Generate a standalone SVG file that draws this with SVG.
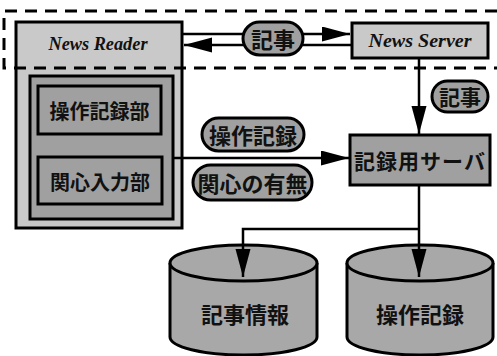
<svg xmlns="http://www.w3.org/2000/svg" width="497" height="356" viewBox="0 0 497 356">
<style>
.box{stroke:#000;stroke-width:3}
.light{fill:#c9c9c9}
.mid{fill:#a0a0a0}
.cyl{fill:#a8a8a8}
.bub{fill:#a0a0a0;stroke:#000;stroke-width:3}
.ja{font-family:"Noto Sans CJK JP","Noto Sans CJK SC",sans-serif;font-weight:700;fill:#111;text-anchor:middle;dominant-baseline:central}
.en{font-family:"Liberation Serif",serif;font-weight:700;font-style:italic;font-size:18px;fill:#111;text-anchor:middle;dominant-baseline:central}
.ln{fill:none;stroke:#000;stroke-width:2.5}
.dash{fill:none;stroke:#000;stroke-width:3;stroke-dasharray:12 8}
</style>
<defs>
<marker id="ah" markerUnits="userSpaceOnUse" markerWidth="30" markerHeight="16" refX="28" refY="7.5" orient="auto">
<path d="M0,0 L28,7.5 L0,15 z" fill="#000"/>
</marker>
</defs>
<rect width="497" height="356" fill="#fff"/>

<g id="news-reader">
<rect class="box light" x="16" y="22" width="166" height="206"/>
<text class="en" x="98" y="44" textLength="99" lengthAdjust="spacingAndGlyphs">News Reader</text>
<rect class="box mid" x="30" y="76" width="143" height="143"/>
<g id="sousa-kiroku-bu">
<rect class="box mid" x="38" y="86" width="123" height="48"/>
<text class="ja" x="99.5" y="110" font-size="20">操作記録部</text>
</g>
<g id="kanshin-nyuryoku-bu">
<rect class="box mid" x="38" y="157" width="124" height="47"/>
<text class="ja" x="100" y="181" font-size="20">関心入力部</text>
</g>
</g>

<g id="news-server">
<rect class="box light" x="352" y="23" width="136" height="35"/>
<text class="en" x="420" y="41" textLength="103" lengthAdjust="spacingAndGlyphs">News Server</text>
</g>

<g id="kiroku-server">
<rect class="box mid" x="350" y="135" width="140" height="50"/>
<text class="ja" x="420" y="160" font-size="21" letter-spacing="1">記録用サーバ</text>
</g>

<g id="db-kiji">
<path class="box cyl" d="M170,263 V337 A73.5,18 0 0 0 317,337 V263"/>
<ellipse class="box cyl" cx="243.5" cy="263" rx="73.5" ry="18"/>
<text class="ja" x="245" y="313" font-size="22">記事情報</text>
</g>

<g id="db-sousa">
<path class="box cyl" d="M347,263 V337 A73,18 0 0 0 493,337 V263"/>
<ellipse class="box cyl" cx="420" cy="263" rx="73" ry="18"/>
<text class="ja" x="420" y="313" font-size="22">操作記録</text>
</g>

<g id="connectors">
<path class="ln" d="M182,34 H350" marker-end="url(#ah)"/>
<path class="ln" d="M352,45 H184" marker-end="url(#ah)"/>
<path class="ln" d="M419,58 V134" marker-end="url(#ah)"/>
<path class="ln" d="M173,158 H349" marker-end="url(#ah)"/>
<path class="ln" d="M419,185 V277" marker-end="url(#ah)"/>
<path class="ln" d="M419,229 H243 V277" marker-end="url(#ah)"/>
</g>

<g id="labels">
<g id="lbl-kiji-top">
<rect class="bub" x="243" y="22" width="60" height="33" rx="16.5"/>
<text class="ja" x="273" y="38" font-size="22">記事</text>
</g>
<g id="lbl-kiji-right">
<rect class="bub" x="432" y="81" width="56" height="31" rx="15.5"/>
<text class="ja" x="460" y="96" font-size="21">記事</text>
</g>
<g id="lbl-sousa">
<rect class="bub" x="202" y="118" width="102" height="33" rx="16.5"/>
<text class="ja" x="253" y="134" font-size="22">操作記録</text>
</g>
<g id="lbl-kanshin">
<rect class="bub" x="193" y="165" width="119" height="35" rx="17.5"/>
<text class="ja" x="252.5" y="182" font-size="22">関心の有無</text>
</g>
</g>

<path class="dash" d="M497,11 H4 V68 H497"/>
</svg>
